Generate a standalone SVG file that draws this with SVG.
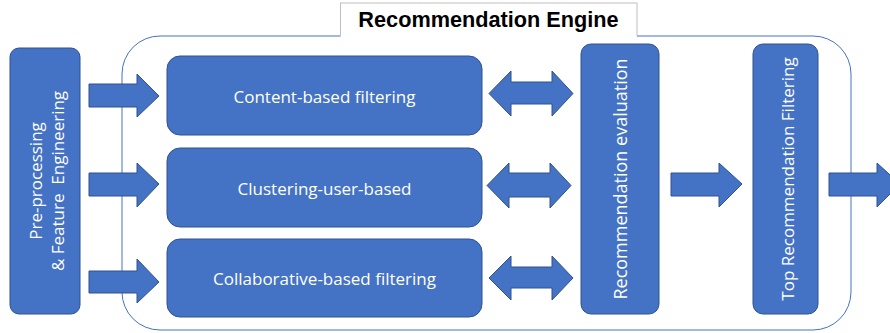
<svg xmlns="http://www.w3.org/2000/svg" width="890" height="333" viewBox="0 0 890 333">
<style>
.box{fill:#4472C4;stroke:#2F528F;stroke-width:1}
.arr{fill:#4472C4;stroke:#2F528F;stroke-width:1}
.lbl{fill:#fff;font-family:"Segoe UI","Open Sans","Noto Sans",sans-serif;font-size:17px;text-anchor:middle;dominant-baseline:central}
.title{fill:#000;font-family:"Liberation Sans",Arial,sans-serif;font-weight:bold;font-size:21.7px;text-anchor:middle}
</style>
<rect width="890" height="333" fill="#fff"/>
<g id="engine">
<rect x="122" y="36" width="729" height="294" rx="38" ry="38" fill="none" stroke="#4472C4" stroke-width="1"/>
<rect x="340.5" y="3" width="296.5" height="34" fill="#fff" stroke="#BFBFBF" stroke-width="1"/>
<line x1="340.5" y1="37" x2="637" y2="37" stroke="#fff" stroke-width="2"/>
<text class="title" x="488.5" y="27">Recommendation Engine</text>
</g>
<g id="preprocessing">
<rect class="box" x="10" y="48" width="70" height="266" rx="9"/>
<text class="lbl" transform="translate(35,181) rotate(-90)">Pre-processing</text>
<text class="lbl" transform="translate(57,181) rotate(-90)" xml:space="preserve">&amp; Feature  Engineering</text>
</g>
<g id="content">
<rect class="box" x="167" y="56" width="315" height="79" rx="13"/>
<text class="lbl" x="324.5" y="96">Content-based filtering</text>
</g>
<g id="clustering">
<rect class="box" x="167" y="148" width="315" height="79" rx="13"/>
<text class="lbl" x="324.5" y="188">Clustering-user-based</text>
</g>
<g id="collaborative">
<rect class="box" x="167" y="239" width="315" height="78" rx="13"/>
<text class="lbl" x="324.5" y="278">Collaborative-based filtering</text>
</g>
<g id="evaluation">
<rect class="box" x="581" y="44" width="78" height="270" rx="10"/>
<text class="lbl" style="font-size:18px" transform="translate(620,179) rotate(-90)">Recommendation evaluation</text>
</g>
<g id="top">
<rect class="box" x="753" y="44" width="65" height="270" rx="10"/>
<text class="lbl" transform="translate(787,179) rotate(-90)">Top Recommendation Filtering</text>
</g>
<g id="connectors">
<path class="arr" d="M89,84 H137 V74 L159,96 L137,117 V107 H89 Z"/>
<path class="arr" d="M89,173 H137 V163 L159,184 L137,207 V196 H89 Z"/>
<path class="arr" d="M89,271 H137 V259 L159,282 L137,303 V293 H89 Z"/>
<path class="arr" d="M489,93.5 L511,71 V82 H552 V71 L573,93.5 L552,116 V104 H511 V116 Z"/>
<path class="arr" d="M487,185.5 L509,163 V173 H550 V163 L571,185.5 L550,208 V197 H509 V208 Z"/>
<path class="arr" d="M489,278 L511,256 V267 H552 V256 L573,278 L552,300 V288 H511 V300 Z"/>
<path class="arr" d="M671,173 H719 V163 L742,184 L719,207 V196 H671 Z"/>
<path class="arr" d="M829,173 H877 V163 L900,184 L877,207 V196 H829 Z"/>
</g>
</svg>
